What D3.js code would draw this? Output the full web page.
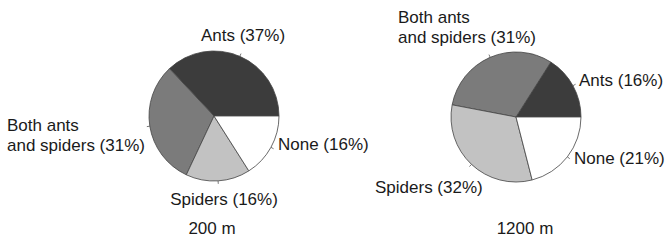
<!DOCTYPE html>
<html><head><meta charset="utf-8">
<script src="https://cdn.jsdelivr.net/npm/d3@7"></script>
<style>body{margin:0;background:#fff}svg{display:block}text{font-family:"Liberation Sans",Arial,sans-serif;font-size:17px;fill:#1a1a1a}</style>
</head><body><svg id="c" width="666" height="240"></svg>
<script>
const categories = ["Ants", "Both ants and spiders", "Spiders", "None"];
const labels = [["Ants"], ["Both ants", "and spiders"], ["Spiders"], ["None"]];
const sites = ["200 m", "1200 m"];
const values200 = [37, 31, 16, 16];
const values1200 = [16, 31, 32, 21];
const colors = ["#3c3c3c", "#7b7b7b", "#c2c2c2", "#ffffff"];

// layout (positions only)
const pies = [
  {values: values200, site: sites[0], cx: 214, cy: 116,
   lab: [{x:243,y:41,a:"middle"},{x:7,y:131,a:"start"},{x:224,y:205,a:"middle"},{x:278,y:150,a:"start"}],
   siteX: 212},
  {values: values1200, site: sites[1], cx: 516, cy: 117,
   lab: [{x:579,y:86,a:"start"},{x:398,y:23,a:"start"},{x:375,y:193,a:"start"},{x:574,y:164,a:"start"}],
   siteX: 525}
];
const R = 65;
const svg = d3.select("#c");
const pie = d3.pie().sort(null).value(d=>d.v)
  .startAngle(Math.PI/2).endAngle(Math.PI/2 - 2*Math.PI);
const arc = d3.arc().innerRadius(0).outerRadius(R);
const color = d3.scaleOrdinal().domain(categories).range(colors);

pies.forEach(p => {
  const g = svg.append("g").attr("transform", `translate(${p.cx},${p.cy})`);
  const data = pie(p.values.map((v,i)=>({cat:categories[i], v, i})));
  g.selectAll("path").data(data).join("path")
    .attr("d", arc)
    .attr("fill", d=>color(d.data.cat))
    .attr("stroke", "#444").attr("stroke-width", 0.8);
  // small leader ticks at slice mid-angles
  g.selectAll("line").data(data).join("line")
    .each(function(d){
      const m = (d.startAngle + d.endAngle)/2;
      d3.select(this)
        .attr("x1", Math.sin(m)*R).attr("y1", -Math.cos(m)*R)
        .attr("x2", Math.sin(m)*(R+3)).attr("y2", -Math.cos(m)*(R+3));
    })
    .attr("stroke", "#555").attr("stroke-width", 0.8);
  data.forEach((d,i) => {
    const L = p.lab[i];
    const lines = labels[i].slice();
    lines[lines.length-1] += ` (${d.data.v}%)`;
    const t = svg.append("text").attr("text-anchor", L.a);
    lines.forEach((ln,j)=> t.append("tspan").attr("x", L.x).attr("y", L.y + j*20).text(ln));
  });
  svg.append("text").attr("x", p.siteX).attr("y", 234).attr("text-anchor","middle").text(p.site);
});
</script></body></html>
